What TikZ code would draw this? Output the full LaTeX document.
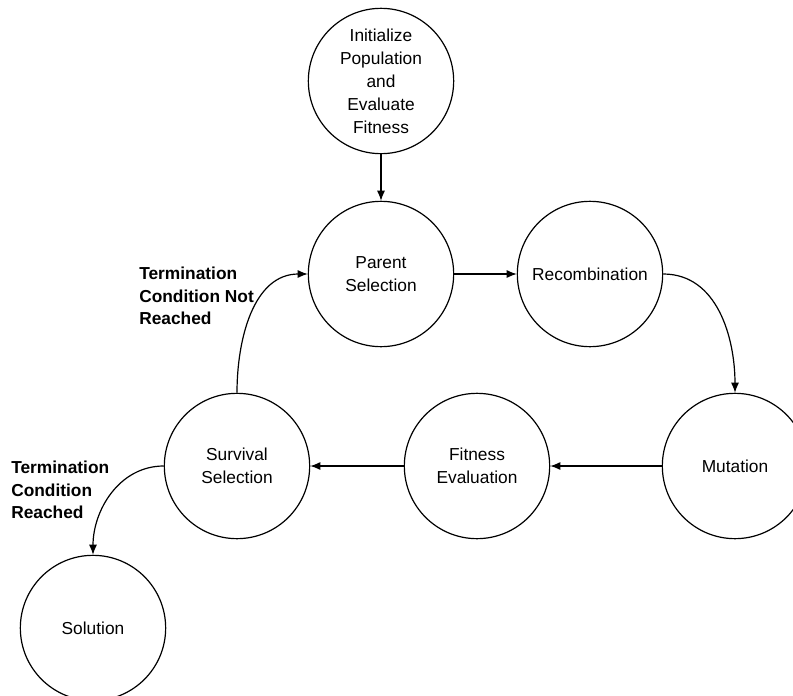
\documentclass[tikz,border=0pt]{standalone}
\usepackage{fontspec}
\setmainfont{Liberation Sans}
\usetikzlibrary{arrows.meta}

\begin{document}
\begin{tikzpicture}[x=0.75pt,y=-0.75pt,
		state/.style={draw, circle, line width=0.9pt, minimum size=109pt, inner sep=0pt, align=center, font=\fontsize{13}{17.25}\selectfont},
		note/.style={anchor=west, align=left, inner sep=0pt, font=\fontsize{13}{17}\selectfont\bfseries},
		link/.style={-{Latex[length=7.5pt,width=6pt]}, line width=0.9pt}]
			\clip (0,0) rectangle (793,696);
			% states of the loop
			\node[state] (init) at (381,81) {Initialize\\Population\\and\\Evaluate\\Fitness};
			\node[state] (parent) at (381,274) {Parent\\Selection};
			\node[state] (recomb) at (590,274) {Recombination};
			\node[state] (mutation) at (735,466) {Mutation};
			\node[state] (fiteval) at (477,466) {Fitness\\Evaluation};
			\node[state] (survival) at (237,466) {Survival\\Selection};
			\node[state] (solution) at (93,628) {Solution};
			% labels on the two exits
			\node[note] (notreached) at (139,296) {Termination\\Condition Not\\Reached};
			\node[note] (reached) at (11,490) {Termination\\Condition\\Reached};
			% connectors
			\draw[link] (init) -- (parent);
			\draw[link] (parent) -- (recomb);
			\draw[link] (recomb.east) to[out=0, in=90] (mutation.north);
			\draw[link] (mutation) -- (fiteval);
			\draw[link] (fiteval) -- (survival);
			\draw[link] (survival.north) to[out=90, in=180] (parent.west);
			\draw[link] (survival.west) to[out=180, in=90] (solution.north);
		\end{tikzpicture}
\end{document}
